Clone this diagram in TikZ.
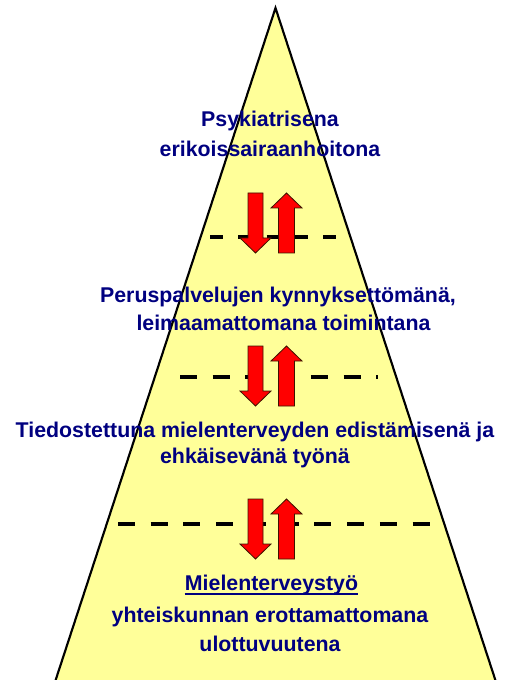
\documentclass[tikz,border=0pt]{standalone}
\usepackage{fontspec}
\setmainfont{Liberation Sans}
\definecolor{pyellow}{RGB}{255,255,153}
\definecolor{tnavy}{RGB}{0,0,128}
\definecolor{aout}{RGB}{60,20,0}
\begin{document}
\begin{tikzpicture}[x=0.75pt,y=-0.75pt,
  lbl/.style={anchor=base,inner sep=0pt,text=tnavy,font=\fontsize{16}{19}\selectfont\bfseries},
  dashA/.style={line width=3pt,dash pattern=on 9.75pt off 11.5pt},
  dashB/.style={line width=3pt,dash pattern=on 12.75pt off 11.8pt},
  blockarrow/.style={fill=red,draw=aout,line width=0.6pt,line join=miter},
  arrowpair/.pic={
    \path[blockarrow] (248,0) -- (263,0) -- (263,45) -- (271,45) -- (255.5,60) -- (240,45) -- (248,45) -- cycle;
    \path[blockarrow] (286.5,0) -- (302,15) -- (294.5,15) -- (294.5,60) -- (278.5,60) -- (278.5,15) -- (271,15) -- cycle;
  }]
\useasboundingbox (0,0) rectangle (504,680);
\clip (0,0) rectangle (504,680);
% pyramid
\coordinate (apex) at (275.5,8);
\coordinate (bl) at (55,682);
\coordinate (br) at (496,682);
\draw[fill=pyellow,line width=1.6pt,line join=miter] (apex) -- (br) -- (bl) -- cycle;
% dashed separators
\coordinate (d1a) at (210,237);
\coordinate (d1b) at (340,237);
\coordinate (d2a) at (180,377);
\coordinate (d2b) at (378,377);
\coordinate (d3a) at (118,524);
\coordinate (d3b) at (432,524);
\draw[dashA] (d1a) -- (d1b);
\draw[dashB] (d2a) -- (d2b);
\draw[dashB] (d3a) -- (d3b);
% arrows
\pic at (0,193) {arrowpair};
\pic at (0,346) {arrowpair};
\pic at (0,499) {arrowpair};
% texts
\node[lbl] (p1a) at (270,127) {Psykiatrisena};
\node[lbl] (p1b) at (270,157) {erikoissairaanhoitona};
\node[lbl] (p2a) at (278,302) {Peruspalvelujen kynnyksettömänä,};
\node[lbl] (p2b) at (283.5,330) {leimaamattomana toimintana};
\node[lbl] (p3a) at (255,437) {Tiedostettuna mielenterveyden edistämisenä ja};
\node[lbl] (p3b) at (255,463) {ehkäisevänä työnä};
\node[lbl] (p4a) at (271.5,590) {Mielenterveystyö};
\node[lbl] (p4b) at (270,622) {yhteiskunnan erottamattomana};
\node[lbl] (p4c) at (270,651) {ulottuvuutena};
\draw[tnavy,line width=1.6pt] ([yshift=-3pt]p4a.base west) -- ([yshift=-3pt]p4a.base east);
\end{tikzpicture}
\end{document}
